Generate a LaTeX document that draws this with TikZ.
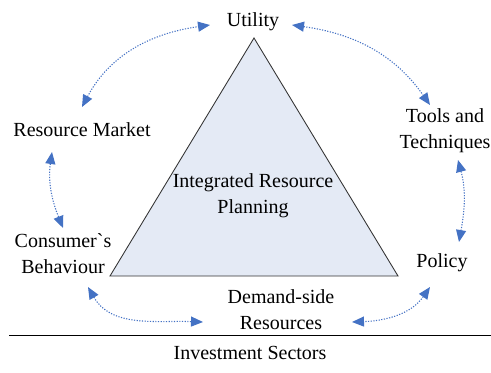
\documentclass[tikz,border=0pt]{standalone}
\usepackage{fontspec}
\setmainfont{Liberation Serif}
\usetikzlibrary{arrows.meta}

\definecolor{irpfill}{HTML}{E4EAF5}
\definecolor{linkblue}{HTML}{4472C4}

\begin{document}
\begin{tikzpicture}[x=0.75pt,y=0.75pt,
  every node/.style={font=\fontsize{15}{19.5}\selectfont,align=center,inner sep=2pt},
  link/.style={linkblue,line width=0.8pt,dash pattern=on 0.9pt off 1.1pt,
    {Triangle[length=9pt,width=7.5pt]}-{Triangle[length=9pt,width=7.5pt]}}]
  \useasboundingbox (0,0) rectangle (491,372);

  \draw[fill=irpfill,draw=black!80,line width=0.65pt] (254,334) -- (398,96) -- (110,96) -- cycle;

  \node (irp) at (253,176) {Integrated Resource\\Planning};
  \node (utility) at (253,350) {Utility};
  \node (market) at (82,242) {Resource Market};
  \node (tools) at (445,241) {Tools and\\Techniques};
  \node (consumer) at (63,118) {Consumer\textasciigrave s\\Behaviour};
  \node (policy) at (442,109) {Policy};
  \node (demand) at (281,62) {Demand-side\\Resources};
  \node (invest) at (250,19) {Investment Sectors};

  \draw[line width=0.6pt] (9,37) -- (491,37);

  \draw[link] ([shift={(0,23)}]market.center) to[out=62,in=188] ([shift={(-43,-3)}]utility.center);
  \draw[link] ([shift={(39,-3)}]utility.center) to[out=-8,in=125] ([shift={(-15,26)}]tools.center);
  \draw[link] ([shift={(-30,-22)}]market.center) to[out=262,in=112] ([shift={(0,26)}]consumer.center);
  \draw[link] ([shift={(13,-29)}]tools.center) to[out=-75,in=80] ([shift={(17,21)}]policy.center);
  \draw[link] ([shift={(25,-33)}]consumer.center) to[out=-60,in=178] ([shift={(-78,-12)}]demand.center);
  \draw[link] ([shift={(-12,-24)}]policy.center) to[out=235,in=2] ([shift={(71,-12)}]demand.center);
\end{tikzpicture}
\end{document}
